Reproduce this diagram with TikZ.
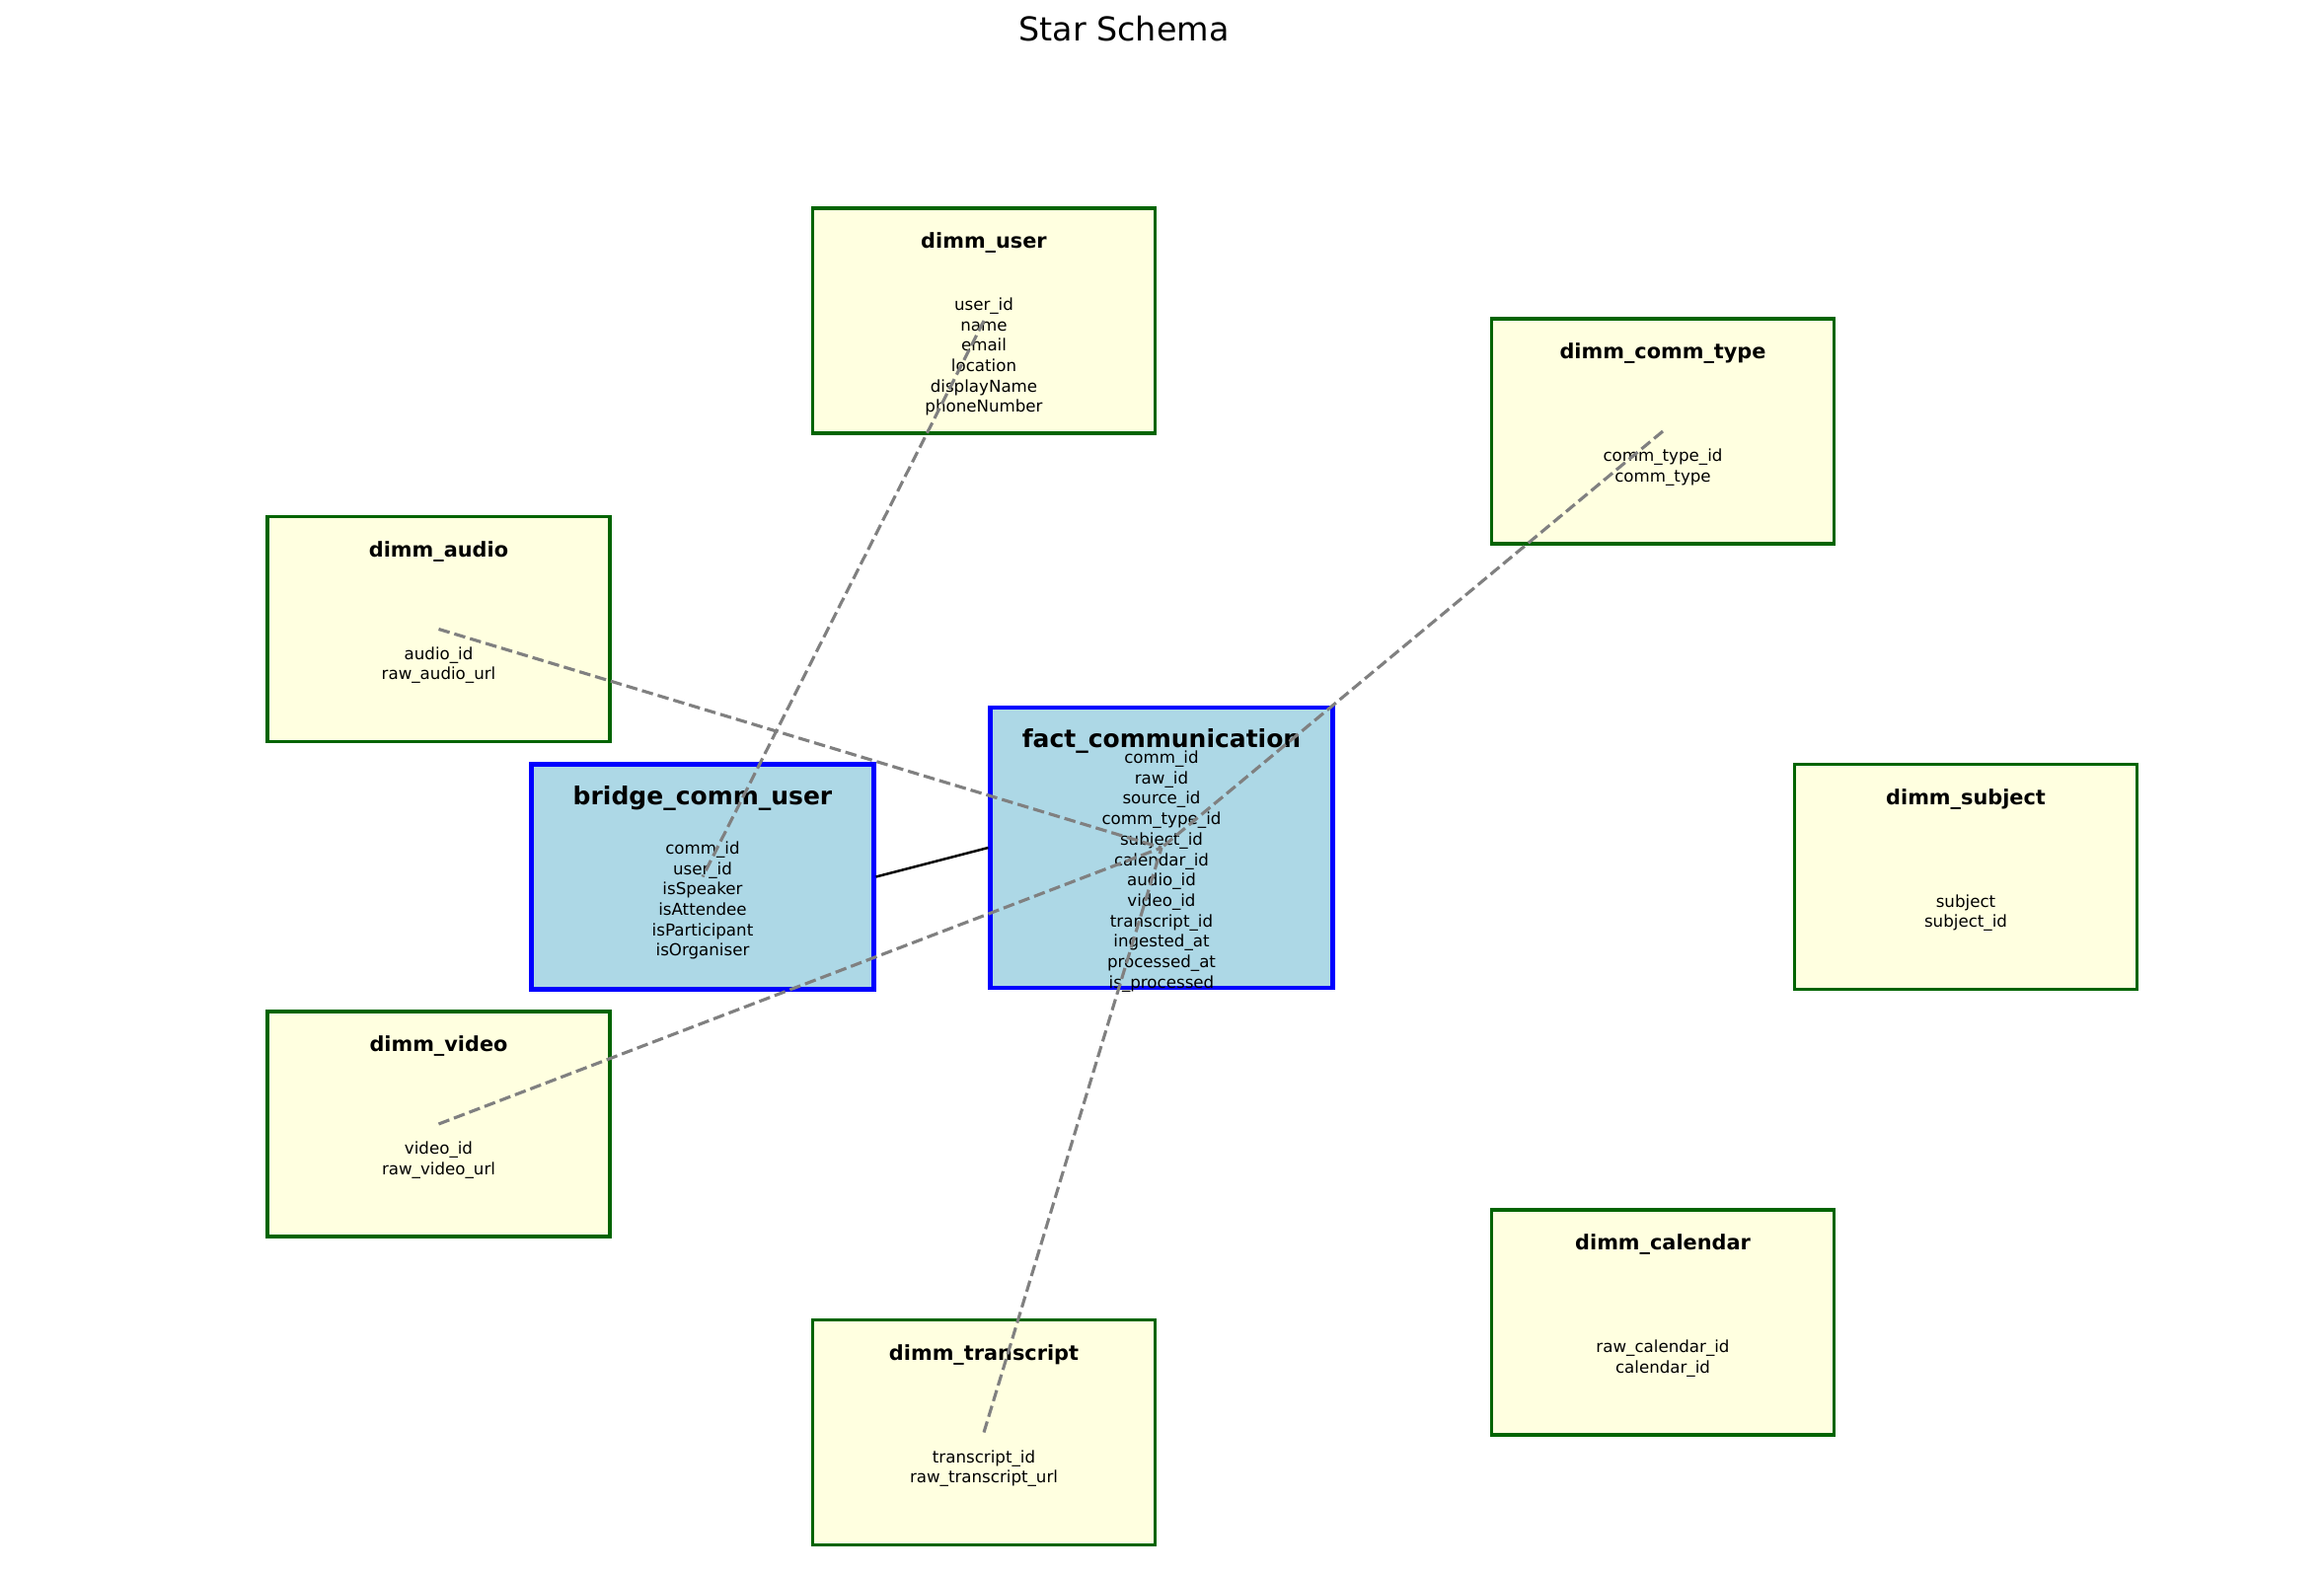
\documentclass[tikz,border=0pt]{standalone}
\usepackage{fontspec}
\setmainfont{DejaVu Sans}
\usepackage{tikz}
\usetikzlibrary{positioning,calc}
\definecolor{DimFill}{HTML}{FFFFE0}
\definecolor{DimEdge}{HTML}{006400}
\definecolor{FactFill}{HTML}{ADD8E6}
\definecolor{FactEdge}{HTML}{0000FF}
\definecolor{LinkGray}{HTML}{808080}

\tikzset{
  dimbox/.style={draw=DimEdge, fill=DimFill, line width=1.5pt, inner sep=0pt,
    minimum width=166.6pt, minimum height=109.4pt},
  factbox/.style={draw=FactEdge, fill=FactFill, line width=2pt, inner sep=0pt,
    minimum width=166.6pt, minimum height=109.4pt},
  dimtitle/.style={font=\bfseries\fontsize{10}{12}\selectfont, inner sep=0pt},
  facttitle/.style={font=\bfseries\fontsize{12}{14}\selectfont, inner sep=0pt},
  fields/.style={align=center, font=\fontsize{8}{9.94}\selectfont, inner sep=0pt},
  link/.style={draw=LinkGray, line width=1.5pt, dash pattern=on 5.55pt off 2.4pt},
}

\begin{document}
\begin{tikzpicture}[x=0.48pt, y=-0.48pt]
        \useasboundingbox (0,0) rectangle (2355,1596);

        % Title
        \node[font=\fontsize{16}{19}\selectfont] (title) at (1139,29) {Star Schema};

        % Fact and bridge tables
        \node[factbox, minimum height=136.3pt] (fact) at (1177,859) {};
        \node[facttitle] (facttitle) at ($(fact.north)+(0,36.5)$) {fact\_communication};
        \node[fields] (factfields) at ($(fact.center)+(0,24)$)
          {comm\_id\\raw\_id\\source\_id\\comm\_type\_id\\subject\_id\\calendar\_id\\audio\_id\\video\_id\\transcript\_id\\ingested\_at\\processed\_at\\is\_processed};

        \node[factbox] (bridge) at (712,888.5) {};
        \node[facttitle] (bridgetitle) at ($(bridge.north)+(0,36.5)$) {bridge\_comm\_user};
        \node[fields] (bridgefields) at ($(bridge.center)+(0,24)$)
          {comm\_id\\user\_id\\isSpeaker\\isAttendee\\isParticipant\\isOrganiser};

        % Dimension tables
        \node[dimbox] (user) at (997,325) {};
        \node[dimtitle] (usertitle) at ($(user.north)+(0,37)$) {dimm\_user};
        \node[fields] (userfields) at ($(user.center)+(0,36.5)$)
          {user\_id\\name\\email\\location\\displayName\\phoneNumber};

        \node[dimbox] (commtype) at (1685,437) {};
        \node[dimtitle] (commtypetitle) at ($(commtype.north)+(0,37)$) {dimm\_comm\_type};
        \node[fields] (commtypefields) at ($(commtype.center)+(0,36.5)$) {comm\_type\_id\\comm\_type};

        \node[dimbox] (audio) at (444.5,637.5) {};
        \node[dimtitle] (audiotitle) at ($(audio.north)+(0,37)$) {dimm\_audio};
        \node[fields] (audiofields) at ($(audio.center)+(0,36.5)$) {audio\_id\\raw\_audio\_url};

        \node[dimbox] (subject) at (1992,888.5) {};
        \node[dimtitle] (subjecttitle) at ($(subject.north)+(0,37)$) {dimm\_subject};
        \node[fields] (subjectfields) at ($(subject.center)+(0,36.5)$) {subject\\subject\_id};

        \node[dimbox] (video) at (444.5,1139) {};
        \node[dimtitle] (videotitle) at ($(video.north)+(0,37)$) {dimm\_video};
        \node[fields] (videofields) at ($(video.center)+(0,36.5)$) {video\_id\\raw\_video\_url};

        \node[dimbox] (calendar) at (1685,1340) {};
        \node[dimtitle] (calendartitle) at ($(calendar.north)+(0,37)$) {dimm\_calendar};
        \node[fields] (calendarfields) at ($(calendar.center)+(0,36.5)$) {raw\_calendar\_id\\calendar\_id};

        \node[dimbox] (transcript) at (997,1451.5) {};
        \node[dimtitle] (transcripttitle) at ($(transcript.north)+(0,37)$) {dimm\_transcript};
        \node[fields] (transcriptfields) at ($(transcript.center)+(0,36.5)$) {transcript\_id\\raw\_transcript\_url};

        % Bridge link
        \draw[line width=1.2pt] (bridge.east) -- (fact.west);

        % Dashed links
        \draw[link] (user.center) -- (bridge.center);
        \draw[link] (audio.center) -- (fact.center);
        \draw[link] (commtype.center) -- (fact.center);
        \draw[link] (video.center) -- (fact.center);
        \draw[link] (transcript.center) -- (fact.center);
      \end{tikzpicture}
\end{document}
